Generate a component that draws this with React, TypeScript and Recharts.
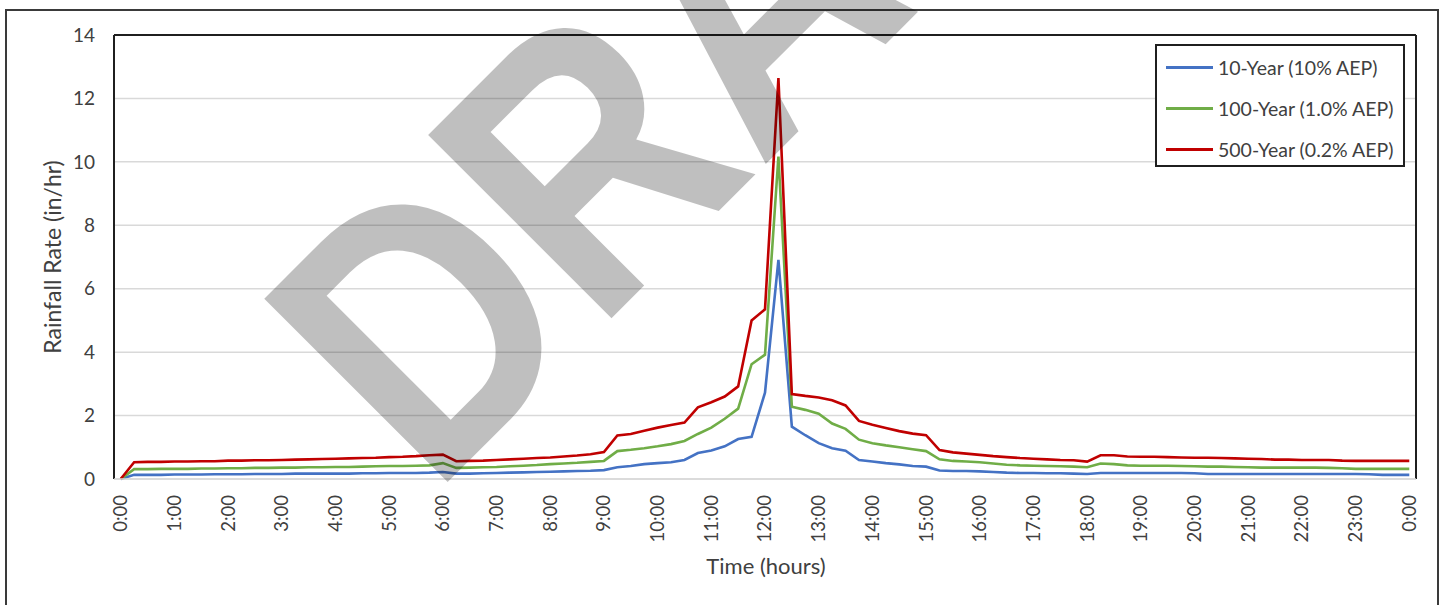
import React from "react";
import {
  LineChart,
  Line,
  XAxis,
  YAxis,
  CartesianGrid,
  Legend,
  ReferenceLine,
  Label,
} from "recharts";

// time of day in minutes, 15-minute steps from 0:00 to 24:00
const minutes = [
  0, 15, 30, 45, 60, 75, 90, 105, 120, 135, 150, 165,
  180, 195, 210, 225, 240, 255, 270, 285, 300, 315, 330, 345,
  360, 375, 390, 405, 420, 435, 450, 465, 480, 495, 510, 525,
  540, 555, 570, 585, 600, 615, 630, 645, 660, 675, 690, 705,
  720, 735, 750, 765, 780, 795, 810, 825, 840, 855, 870, 885,
  900, 915, 930, 945, 960, 975, 990, 1005, 1020, 1035, 1050, 1065,
  1080, 1095, 1110, 1125, 1140, 1155, 1170, 1185, 1200, 1215, 1230, 1245,
  1260, 1275, 1290, 1305, 1320, 1335, 1350, 1365, 1380, 1395, 1410, 1425,
  1440,
];

// rainfall rate (in/hr), one row per hour
const rate10yr = [
  0, 0.13, 0.13, 0.13,
  0.14, 0.14, 0.14, 0.15,
  0.15, 0.15, 0.16, 0.16,
  0.16, 0.17, 0.17, 0.17,
  0.17, 0.17, 0.18, 0.18,
  0.19, 0.19, 0.19, 0.2,
  0.22, 0.17, 0.17, 0.18,
  0.19, 0.2, 0.21, 0.22,
  0.23, 0.24, 0.25, 0.26,
  0.28, 0.37, 0.41, 0.47,
  0.5, 0.53, 0.6, 0.82,
  0.9, 1.03, 1.26, 1.33,
  2.72, 6.91, 1.65, 1.38,
  1.13, 0.97, 0.89, 0.6,
  0.55, 0.5, 0.46, 0.41,
  0.39, 0.27, 0.25, 0.25,
  0.24, 0.22, 0.2, 0.19,
  0.19, 0.18, 0.18, 0.17,
  0.16, 0.19, 0.19, 0.19,
  0.19, 0.19, 0.19, 0.19,
  0.18, 0.16, 0.16, 0.16,
  0.16, 0.16, 0.16, 0.16,
  0.16, 0.16, 0.16, 0.16,
  0.16, 0.15, 0.13, 0.13,
  0.13,
];

const rate100yr = [
  0, 0.31, 0.31, 0.32,
  0.32, 0.32, 0.33, 0.33,
  0.34, 0.34, 0.35, 0.35,
  0.36, 0.36, 0.37, 0.37,
  0.38, 0.38, 0.39, 0.4,
  0.41, 0.41, 0.42, 0.43,
  0.5, 0.35, 0.36, 0.37,
  0.38, 0.4, 0.42, 0.44,
  0.47, 0.49, 0.51, 0.54,
  0.57, 0.88, 0.92, 0.97,
  1.03, 1.1, 1.2, 1.42,
  1.62, 1.9, 2.22, 3.62,
  3.92, 10.17, 2.28, 2.18,
  2.06, 1.75, 1.58, 1.24,
  1.13, 1.06, 1.0, 0.94,
  0.88, 0.62, 0.57, 0.55,
  0.53, 0.49, 0.45, 0.43,
  0.42, 0.41, 0.4, 0.39,
  0.37, 0.49, 0.47, 0.43,
  0.42, 0.42, 0.42, 0.41,
  0.4, 0.39, 0.39, 0.38,
  0.37, 0.36, 0.36, 0.36,
  0.36, 0.36, 0.35, 0.34,
  0.32, 0.32, 0.32, 0.32,
  0.32,
];

const rate500yr = [
  0, 0.53, 0.54, 0.54,
  0.55, 0.55, 0.56, 0.56,
  0.58, 0.58, 0.59, 0.59,
  0.6, 0.61, 0.62, 0.63,
  0.64, 0.65, 0.66, 0.67,
  0.69, 0.7, 0.72, 0.75,
  0.77, 0.56, 0.57, 0.58,
  0.6, 0.62, 0.64, 0.66,
  0.68, 0.71, 0.74, 0.78,
  0.85, 1.37, 1.42, 1.52,
  1.62, 1.7, 1.78, 2.26,
  2.42, 2.6, 2.92, 5.0,
  5.35, 12.64, 2.68, 2.62,
  2.57, 2.48, 2.32, 1.83,
  1.71, 1.61, 1.51, 1.43,
  1.38, 0.91, 0.84, 0.8,
  0.76, 0.72, 0.69, 0.66,
  0.64, 0.62, 0.6, 0.59,
  0.55, 0.75, 0.75, 0.71,
  0.7, 0.7, 0.69, 0.68,
  0.67, 0.67, 0.66, 0.65,
  0.64, 0.63, 0.61, 0.61,
  0.6, 0.6, 0.6, 0.58,
  0.57, 0.57, 0.57, 0.57,
  0.57,
];

const hourTicks = [
  0, 60, 120, 180, 240, 300, 360, 420, 480, 540, 600, 660, 720,
  780, 840, 900, 960, 1020, 1080, 1140, 1200, 1260, 1320, 1380, 1440,
];
const hourLabels = [
  "0:00", "1:00", "2:00", "3:00", "4:00", "5:00", "6:00", "7:00", "8:00",
  "9:00", "10:00", "11:00", "12:00", "13:00", "14:00", "15:00", "16:00",
  "17:00", "18:00", "19:00", "20:00", "21:00", "22:00", "23:00", "0:00",
];
const rateTicks = [0, 2, 4, 6, 8, 10, 12, 14];

const series = [
  { key: "r10", name: "10-Year (10% AEP)", color: "#4472C4" },
  { key: "r100", name: "100-Year (1.0% AEP)", color: "#70AD47" },
  { key: "r500", name: "500-Year (0.2% AEP)", color: "#C00000" },
];

const data = minutes.map((m, i) => ({
  minute: m,
  r10: rate10yr[i],
  r100: rate100yr[i],
  r500: rate500yr[i],
}));

const FONT = "Lato, 'Open Sans', sans-serif";
const TEXT = "#404040";
const FRAME = "#1f1f1f";

// half a time step of padding on both ends, like a category axis
const X_MIN = -7.5;
const X_MAX = 1447.5;

const HourTick = (props: any) => {
  const { x, y, payload } = props;
  const idx = hourTicks.indexOf(payload.value);
  return (
    <text
      x={x}
      y={y}
      dy="0.35em"
      transform={`rotate(-90, ${x}, ${y})`}
      textAnchor="end"
      fill={TEXT}
      fontSize={18.5}
      fontFamily={FONT}
    >
      {hourLabels[idx]}
    </text>
  );
};

const LegendBox = () => (
  <div
    style={{
      border: `2px solid ${FRAME}`,
      background: "#fff",
      padding: "7px 0 0 9px",
      boxSizing: "border-box",
      width: 250,
      height: 123,
      fontFamily: FONT,
      fontSize: 19.5,
      color: TEXT,
      whiteSpace: "nowrap",
    }}
  >
    {series.map((s) => (
      <div
        key={s.key}
        style={{ display: "flex", alignItems: "center", height: 41, marginTop: s.key === "r10" ? -6 : 0 }}
      >
        <span
          style={{ display: "inline-block", width: 47, height: 3, background: s.color, marginRight: 5 }}
        />
        <span>{s.name}</span>
      </div>
    ))}
  </div>
);

export default function App() {
  return (
    <div
      style={{
        position: "absolute",
        left: 0,
        top: 0,
        width: 1445,
        height: 605,
        overflow: "hidden",
        background: "#fff",
      }}
    >
      {/* outer chart frame, open at the bottom */}
      <div
        style={{
          position: "absolute",
          left: 5,
          top: 9,
          width: 1434,
          height: 620,
          border: "2px solid #3a3a3a",
          boxSizing: "border-box",
        }}
      />
      <LineChart
        width={1445}
        height={605}
        data={data}
        margin={{ top: 35, right: 29, bottom: 0, left: 0 }}
        style={{ fontFamily: FONT }}
      >
        <CartesianGrid vertical={false} stroke="#d9d9d9" strokeWidth={1.5} />
        <XAxis
          dataKey="minute"
          type="number"
          domain={[X_MIN, X_MAX]}
          ticks={hourTicks}
          interval={0}
          height={126}
          tickSize={0}
          tickMargin={16}
          tick={<HourTick />}
          axisLine={{ stroke: "#d9d9d9", strokeWidth: 1.5 }}
          tickLine={false}
        >
          <Label
            content={(p: any) => (
              <text
                x={p.viewBox.x + p.viewBox.width / 2 + 1}
                y={p.viewBox.y + 86}
                textAnchor="middle"
                dominantBaseline="central"
                fill={TEXT}
                fontSize={22}
                fontFamily={FONT}
              >
                Time (hours)
              </text>
            )}
          />
        </XAxis>
        <YAxis
          domain={[0, 14]}
          ticks={rateTicks}
          width={114}
          tickSize={0}
          tickMargin={19}
          axisLine={false}
          tickLine={false}
          tick={{ fill: TEXT, fontSize: 19, fontFamily: FONT }}
        >
          <Label
            content={(p: any) => {
              const cx = p.viewBox.x + 52;
              const cy = p.viewBox.y + p.viewBox.height / 2;
              return (
                <text
                  x={cx}
                  y={cy}
                  transform={`rotate(-90, ${cx}, ${cy})`}
                  textAnchor="middle"
                  dominantBaseline="central"
                  fill={TEXT}
                  fontSize={23}
                  fontFamily={FONT}
                >
                  Rainfall Rate (in/hr)
                </text>
              );
            }}
          />
        </YAxis>
        {series.map((s) => (
          <Line
            key={s.key}
            type="linear"
            dataKey={s.key}
            name={s.name}
            stroke={s.color}
            strokeWidth={2.6}
            dot={false}
            isAnimationActive={false}
          />
        ))}
        {/* plot area frame: top, left and right */}
        <ReferenceLine y={14} stroke={FRAME} strokeWidth={2} />
        <ReferenceLine x={X_MIN} stroke={FRAME} strokeWidth={2} />
        <ReferenceLine x={X_MAX} stroke={FRAME} strokeWidth={2} />
        <Legend
          layout="vertical"
          align="center"
          verticalAlign="middle"
          content={() => <LegendBox />}
          wrapperStyle={{ left: 1155, top: 44, width: 250, height: 123 }}
        />
      </LineChart>
      {/* DRAFT watermark laid over the chart */}
      <svg
        width={1445}
        height={605}
        style={{ position: "absolute", left: 0, top: 0, pointerEvents: "none" }}
      >
        <text
          transform="translate(432.5 497.3) rotate(-45) scale(0.851 1)"
          fontFamily="'Liberation Sans', Arial, sans-serif"
          fontWeight={700}
          fontSize={377}
          fill="#000"
          fillOpacity={0.25}
        >
          DRAFT
        </text>
      </svg>
    </div>
  );
}
